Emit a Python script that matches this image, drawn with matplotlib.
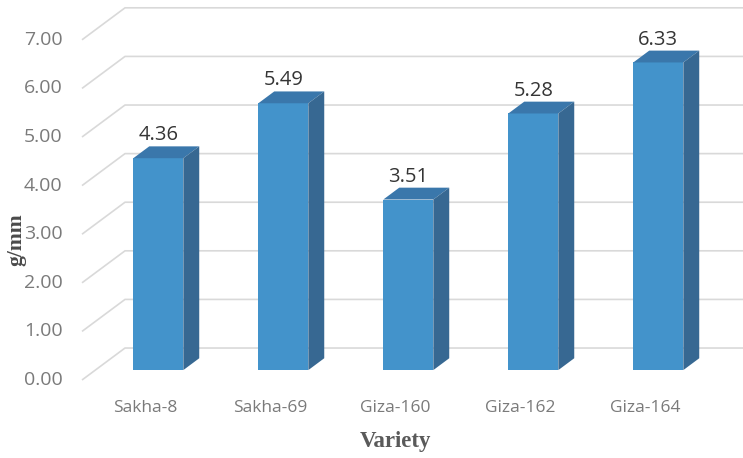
import matplotlib
matplotlib.use("Agg")
import matplotlib.pyplot as plt
from matplotlib.patches import Polygon

# Data
varieties = ["Sakha-8", "Sakha-69", "Giza-160", "Giza-162", "Giza-164"]
values = [4.36, 5.49, 3.51, 5.28, 6.33]
y_ticks = [0, 1, 2, 3, 4, 5, 6, 7]

# Colours
FRONT = "#4393cb"
TOP = "#3a77ab"
SIDE = "#376892"
GRID = "#d9d9d9"

fig = plt.figure(figsize=(7.43, 4.58), dpi=100)
ax = fig.add_axes([0, 0, 1, 1])
ax.set_xlim(-1.16, 4.784)
ax.set_ylim(-1.605, 7.819)
ax.axis("off")

# Wall depth (pseudo-3D offset from the front plane to the back wall)
DX, DY = 0.344, 0.658
x_front = -0.504

# Perspective gridlines: floor-to-wall diagonal plus back-wall horizontal
for v in y_ticks:
    ax.plot([x_front, x_front + DX, 4.784], [v, v + DY, v + DY],
            color=GRID, lw=1.2, zorder=1, solid_capstyle="butt")
    ax.text(-0.658, v, f"{v:.2f}", ha="right", va="center",
            fontsize=14, color="#7a7a7a", family="Open Sans")

# Bars
half_w = 0.2
d1 = 0.31          # depth of bar front face
bd = 0.37          # bar depth as fraction of the wall
bdx, bdy = bd * DX, bd * DY
for i, (name, v) in enumerate(zip(varieties, values)):
    cx = i + d1 * DX
    y0 = d1 * DY
    xl, xr = cx - half_w, cx + half_w
    ax.add_patch(Polygon([(xl, y0), (xr, y0), (xr, y0 + v), (xl, y0 + v)],
                         closed=True, facecolor=FRONT, edgecolor="none", zorder=3))
    ax.add_patch(Polygon([(xl, y0 + v), (xr, y0 + v),
                          (xr + bdx, y0 + v + bdy), (xl + bdx, y0 + v + bdy)],
                         closed=True, facecolor=TOP, edgecolor="none", zorder=3))
    ax.add_patch(Polygon([(xr, y0), (xr + bdx, y0 + bdy),
                          (xr + bdx, y0 + v + bdy), (xr, y0 + v)],
                         closed=True, facecolor=SIDE, edgecolor="none", zorder=3))
    ax.text(cx, y0 + v + bdy + 0.02, f"{v:.2f}", ha="center", va="bottom",
            fontsize=14.5, color="#353535", family="Open Sans", zorder=4)
    ax.text(i, -0.58, name, ha="center", va="center",
            fontsize=12.5, color="#7a7a7a", family="Open Sans")

# Axis titles
ax.text(2.0, -1.27, "Variety", ha="center", va="center", fontsize=16.5,
        fontweight="bold", color="#5a5a5a", family="Liberation Serif")
ax.text(-1.03, 2.88, "g/mm", ha="center", va="center", rotation=90,
        fontsize=15.5, fontweight="bold", color="#4a4a4a",
        family="Liberation Serif")

fig.savefig("out.png", dpi=100)
